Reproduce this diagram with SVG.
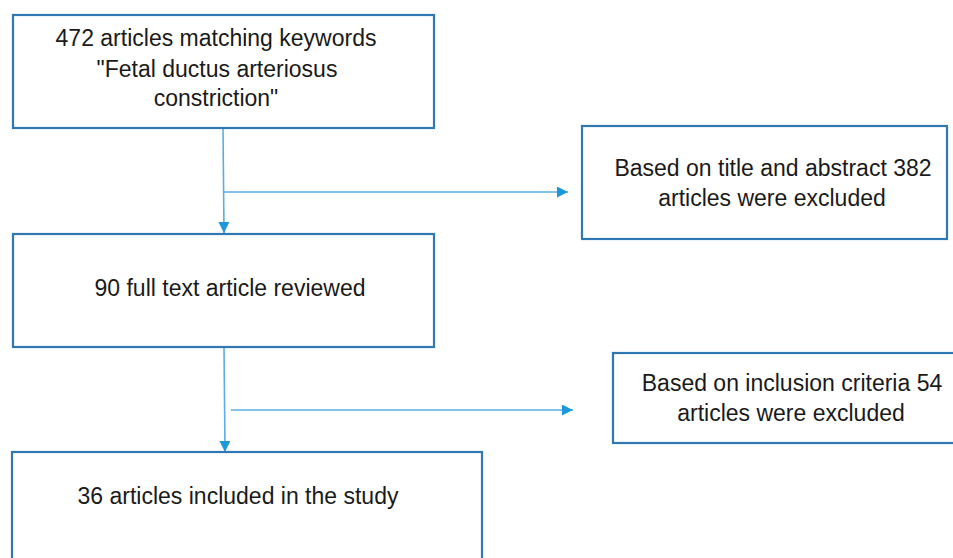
<svg xmlns="http://www.w3.org/2000/svg" width="953" height="558" viewBox="0 0 953 558">
<defs>
<style>
.box{fill:#ffffff;stroke:#2f78b4;stroke-width:2.2}
.t{font-family:"Liberation Sans",Arial,sans-serif;font-size:23px;fill:#1a1a1a;text-anchor:middle}
.c{fill:none;stroke:#5aaee2;stroke-width:1.6}
</style>
<marker id="ah" markerWidth="12" markerHeight="12" refX="11" refY="5.5" orient="auto" markerUnits="userSpaceOnUse">
<path d="M0,0 L11,5.5 L0,11 Z" fill="#1f98d8"/>
</marker>
</defs>
<rect width="953" height="558" fill="#ffffff"/>
<g id="connectors">
<path class="c" d="M223,128 L224,233" marker-end="url(#ah)"/>
<path class="c" d="M224,192 L568,192" marker-end="url(#ah)"/>
<path class="c" d="M224,347 L225,452" marker-end="url(#ah)"/>
<path class="c" d="M231,410 L573,410" marker-end="url(#ah)"/>
</g>
<g id="n1">
<rect class="box" x="13" y="15" width="421" height="113"/>
<text class="t" x="216" y="46">472 articles matching keywords</text>
<text class="t" x="217" y="77">"Fetal ductus arteriosus</text>
<text class="t" x="216" y="106">constriction"</text>
</g>
<g id="n2">
<rect class="box" x="582" y="126" width="365" height="113"/>
<text class="t" x="773" y="176">Based on title and abstract 382</text>
<text class="t" x="772" y="206">articles were excluded</text>
</g>
<g id="n3">
<rect class="box" x="13" y="234" width="421" height="113"/>
<text class="t" x="230" y="296">90 full text article reviewed</text>
</g>
<g id="n4">
<rect class="box" x="613" y="353" width="345" height="90"/>
<text class="t" x="792" y="391">Based on inclusion criteria 54</text>
<text class="t" x="791" y="421">articles were excluded</text>
</g>
<g id="n5">
<rect class="box" x="12" y="452" width="470" height="120"/>
<text class="t" x="238" y="504">36 articles included in the study</text>
</g>
</svg>
